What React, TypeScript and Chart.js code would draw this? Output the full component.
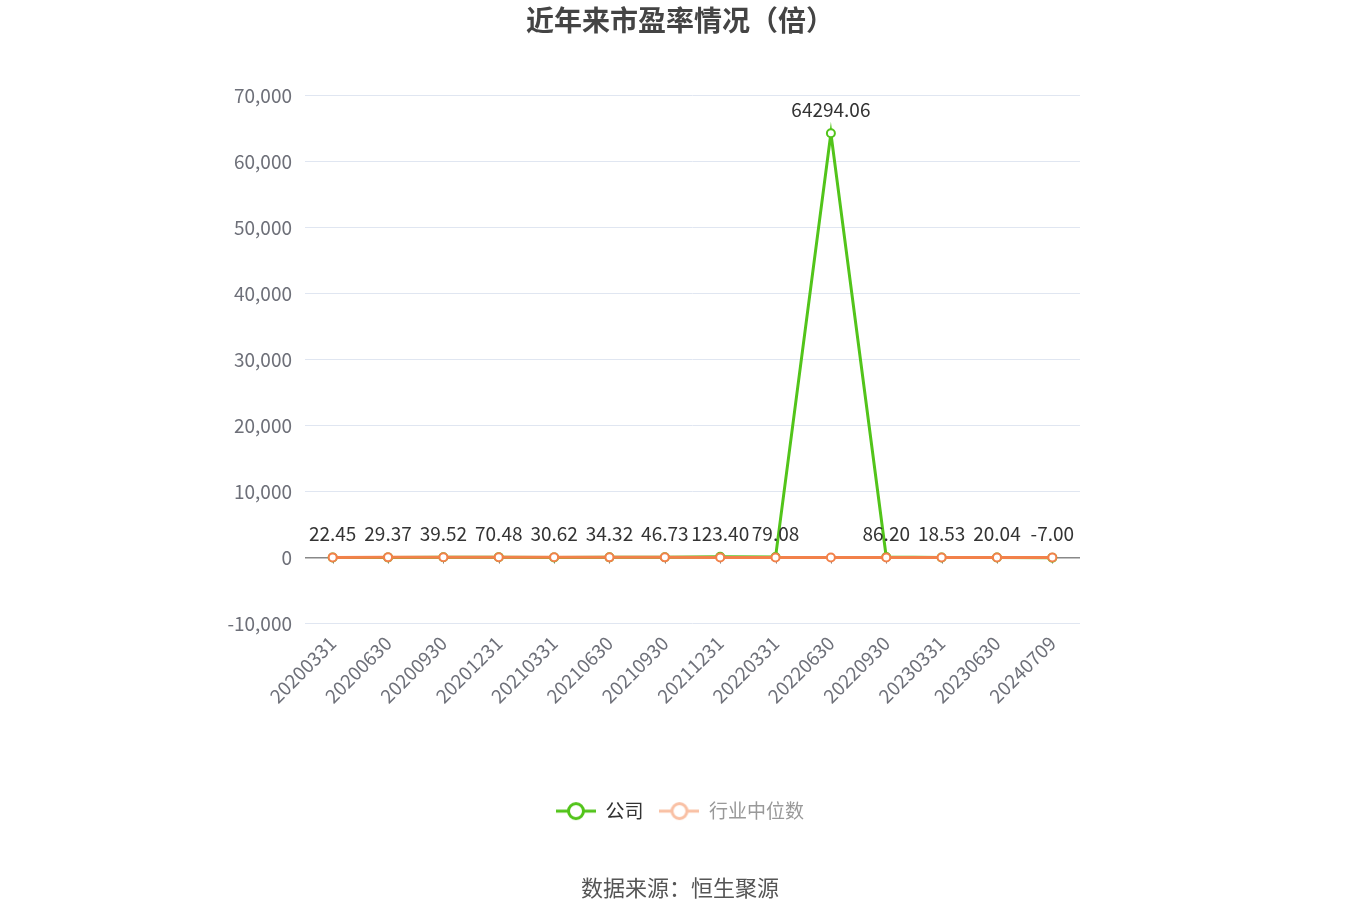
import { useEffect, useRef } from 'react';
import { Chart, ChartConfiguration, Plugin, registerables } from 'chart.js';

Chart.register(...registerables);

const categories = [
  '20200331', '20200630', '20200930', '20201231', '20210331', '20210630', '20210930',
  '20211231', '20220331', '20220630', '20220930', '20230331', '20230630', '20240709',
];
const companyPE = [22.45, 29.37, 39.52, 70.48, 30.62, 34.32, 46.73, 123.4, 79.08, 64294.06, 86.2, 18.53, 20.04, -7.0];
const industryPE = [33.5, 38.2, 40.1, 45.3, 41.2, 36.8, 35.1, 30.2, 27.5, 25.3, 24.1, 26.8, 28.4, 24.6];
const yTicks = [-10000, 0, 10000, 20000, 30000, 40000, 50000, 60000, 70000];

const GREEN = '#52c41a';
const ORANGE = '#f2814a';
const FONT = '"Noto Sans CJK SC", "Noto Sans", sans-serif';

// legend icon: short line through a hollow circle
function legendIcon(color: string) {
  const c = document.createElement('canvas');
  c.width = 40;
  c.height = 20;
  const g = c.getContext('2d')!;
  g.strokeStyle = color;
  g.lineWidth = 3;
  g.beginPath();
  g.moveTo(0, 10);
  g.lineTo(40, 10);
  g.stroke();
  g.fillStyle = '#fff';
  g.beginPath();
  g.arc(20, 10, 7.5, 0, Math.PI * 2);
  g.fill();
  g.stroke();
  return c;
}

// tick marks on the zero line and value labels over the company series
const decorations: Plugin = {
  id: 'decorations',
  beforeDatasetsDraw(chart) {
    const { ctx } = chart;
    const x = chart.scales.x;
    const y0 = chart.scales.y.getPixelForValue(0);
    ctx.save();
    ctx.strokeStyle = '#888';
    ctx.lineWidth = 1;
    categories.forEach((_, i) => {
      const px = Math.round(x.getPixelForValue(i)) + 0.5;
      ctx.beginPath();
      ctx.moveTo(px, y0);
      ctx.lineTo(px, y0 + 6);
      ctx.stroke();
    });
    ctx.restore();
  },
  afterDatasetsDraw(chart) {
    const { ctx } = chart;
    const meta = chart.getDatasetMeta(1);
    ctx.save();
    ctx.font = `19px ${FONT}`;
    ctx.fillStyle = '#333';
    ctx.textAlign = 'center';
    ctx.textBaseline = 'bottom';
    meta.data.forEach((pt, i) => {
      ctx.fillText(companyPE[i].toFixed(2), pt.x, pt.y - 14);
    });
    ctx.restore();
  },
};

export default function App() {
  const canvasRef = useRef<HTMLCanvasElement>(null);
  const chartRef = useRef<Chart | null>(null);

  useEffect(() => {
    if (!canvasRef.current) return;
    if (chartRef.current) chartRef.current.destroy();

    const icons = [legendIcon(GREEN), legendIcon('#f9c0a4')];

    const config: ChartConfiguration<'line'> = {
      type: 'line',
      data: {
        labels: categories,
        datasets: [
          {
            label: '行业中位数',
            data: industryPE,
            borderColor: ORANGE,
            backgroundColor: '#fff',
            borderWidth: 3,
            pointRadius: 4,
            pointBorderWidth: 2,
            pointBackgroundColor: '#fff',
            pointBorderColor: ORANGE,
            order: 1,
          },
          {
            label: '公司',
            data: companyPE,
            borderColor: GREEN,
            backgroundColor: '#fff',
            borderWidth: 3,
            pointRadius: 4,
            pointBorderWidth: 2,
            pointBackgroundColor: '#fff',
            pointBorderColor: GREEN,
            order: 2,
          },
        ],
      },
      options: {
        responsive: false,
        animation: false,
        layout: { padding: { left: 0, right: 0, top: 0, bottom: 19 } },
        plugins: {
          title: {
            display: true,
            text: '近年来市盈率情况（倍）',
            color: '#444',
            font: { family: FONT, size: 28, weight: 'bold' },
            padding: { top: 4, bottom: 58 },
          },
          subtitle: {
            display: true,
            position: 'bottom',
            text: '数据来源：恒生聚源',
            color: '#555',
            font: { family: FONT, size: 22 },
            padding: { top: 44, bottom: 0 },
          },
          legend: {
            position: 'bottom',
            labels: {
              usePointStyle: true,
              pointStyleWidth: 40,
              boxHeight: 19,
              font: { family: FONT, size: 19 },
              padding: 16,
              generateLabels: () => [
                {
                  text: '公司',
                  pointStyle: icons[0],
                  fontColor: '#333',
                  datasetIndex: 1,
                  hidden: false,
                  lineWidth: 0,
                },
                {
                  text: '行业中位数',
                  pointStyle: icons[1],
                  fontColor: '#999',
                  datasetIndex: 0,
                  hidden: false,
                  lineWidth: 0,
                },
              ],
            },
          },
          tooltip: { enabled: false },
        },
        scales: {
          x: {
            offset: true,
            grid: { display: false },
            border: { display: false },
            ticks: {
              color: '#6e7079',
              font: { family: FONT, size: 19 },
              maxRotation: 45,
              minRotation: 45,
              padding: 0,
              autoSkip: false,
            },
            afterFit: (s) => {
              s.height = 162;
            },
          },
          y: {
            min: -10000,
            max: 70000,
            afterBuildTicks: (s) => {
              s.ticks = yTicks.map((v) => ({ value: v }));
            },
            grid: {
              color: (c) => (c.tick && c.tick.value === 0 ? '#888' : '#e0e6f1'),
              lineWidth: (c) => (c.tick && c.tick.value === 0 ? 1.5 : 1),
              drawTicks: false,
            },
            border: { display: false },
            ticks: {
              color: '#6e7079',
              font: { family: FONT, size: 19 },
              padding: 13,
              callback: (v) => Number(v).toLocaleString('en-US'),
            },
            afterFit: (s) => {
              s.width = 305;
            },
          },
          // empty right-hand axis that only reserves the blank margin
          yRight: {
            position: 'right',
            display: true,
            grid: { display: false },
            border: { display: false },
            ticks: { display: false },
            afterFit: (s) => {
              s.width = 280;
            },
          },
        },
      },
      plugins: [decorations],
    };

    chartRef.current = new Chart(canvasRef.current, config);
    return () => {
      if (chartRef.current) chartRef.current.destroy();
    };
  }, []);

  return (
    <div style={{ position: 'fixed', left: 0, top: 0, width: 1360, height: 920, background: '#fff' }}>
      <canvas ref={canvasRef} width={1360} height={920} style={{ width: 1360, height: 920 }} />
    </div>
  );
}
